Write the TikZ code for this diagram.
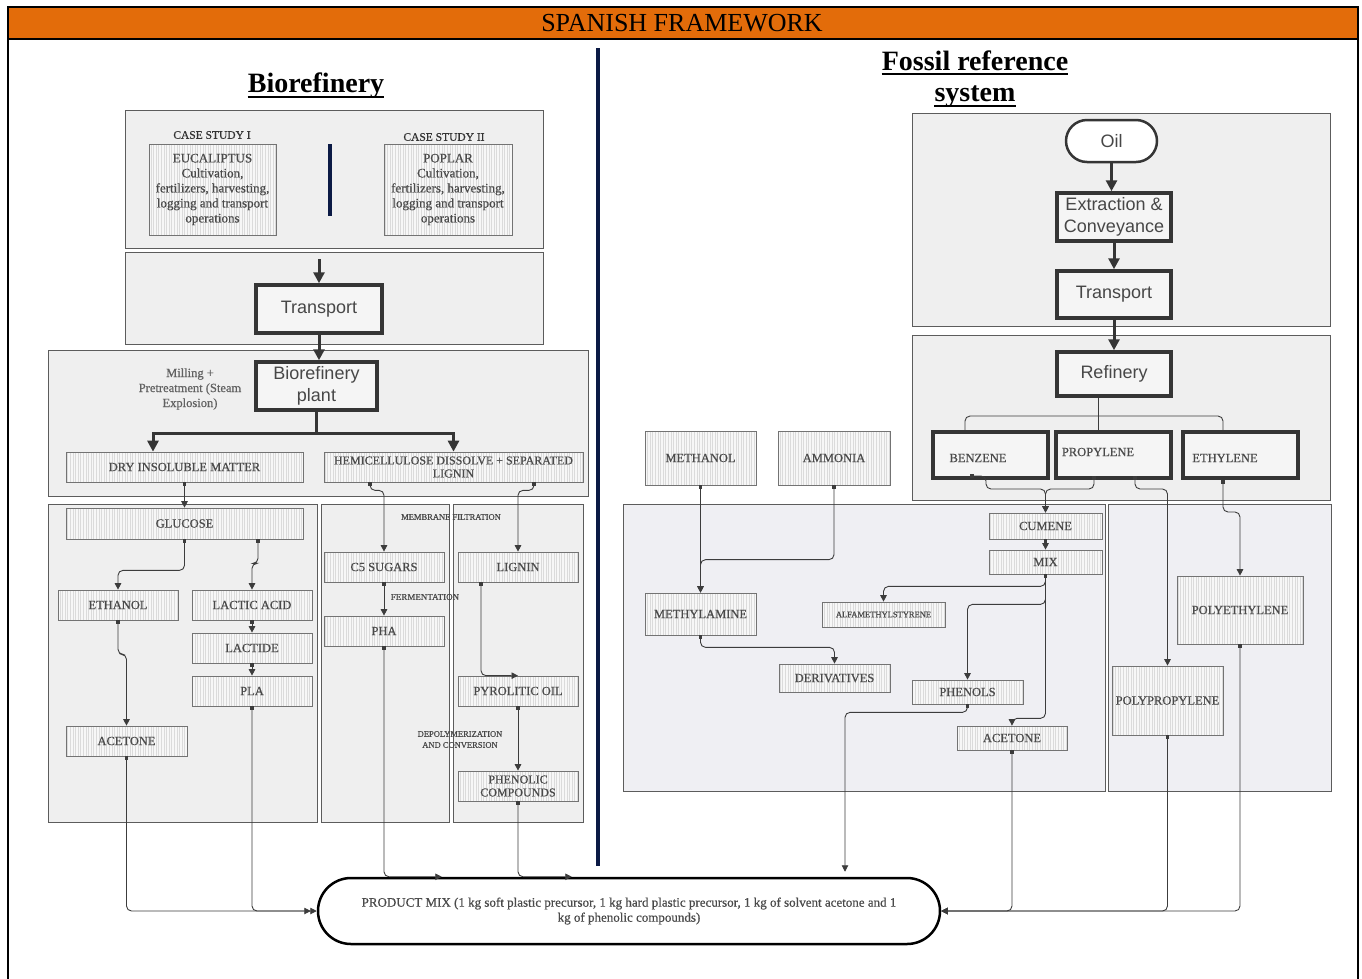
\documentclass[tikz,border=0pt]{standalone}
\usepackage{fontspec}
\setmainfont{Liberation Serif}
\newfontfamily\arialfont{Liberation Sans}
\newfontfamily\boxfont[FakeBold=0.6]{Liberation Serif}
\usetikzlibrary{arrows.meta,patterns.meta,calc}
\definecolor{hdr}{HTML}{E36C0A}
\definecolor{navy}{HTML}{0B1A45}
\definecolor{panelfill}{HTML}{EFEFEF}
\definecolor{panelfillb}{HTML}{EFEFF3}
\definecolor{paneldraw}{HTML}{5C5C5C}
\definecolor{boxtext}{HTML}{4A4A4A}
\definecolor{wire}{HTML}{3C3C3C}
\definecolor{heavy}{HTML}{353535}

\begin{document}
\begin{tikzpicture}[x=1pt,y=-1pt,
  panel/.style={draw=paneldraw,fill=panelfill,line width=0.8pt},
  panelb/.style={panel,fill=panelfillb},
  hatchbox/.style={draw=black!55,line width=0.7pt,preaction={fill=black!3},
     pattern={Lines[angle=90,distance=2.6pt,line width=0.45pt]},pattern color=black!14,
     text=boxtext,font=\boxfont\fontsize{12.5}{15}\selectfont,inner sep=1pt,align=center},
  heavybox/.style={draw=heavy,line width=3.5pt,fill=black!4,text=black!72,
     font=\arialfont\fontsize{18}{22}\selectfont,inner sep=1pt,align=center},
  chembox/.style={draw=heavy,line width=4pt,fill=black!4,inner sep=0pt},
  boxlbl/.style={text=boxtext,font=\boxfont\fontsize{12.5}{14}\selectfont,inner sep=0pt},
  smalllbl/.style={text=boxtext,font=\boxfont\fontsize{8.5}{11}\selectfont,inner sep=0pt,align=center},
  cslabel/.style={text=black!80,font=\boxfont\fontsize{11.5}{13}\selectfont,inner sep=0pt},
  title/.style={font=\bfseries\fontsize{28}{30}\selectfont,inner sep=0pt,anchor=base},
  flow/.style={draw=heavy,line width=3pt,-{Triangle[length=11pt,width=11pt]}},
  heavyline/.style={draw=heavy,line width=3pt},
  conn/.style={draw=wire,line width=0.9pt,rounded corners=5pt,
     {Square[length=3.4pt,width=3.4pt]}-{Triangle[length=6.5pt,width=6.5pt]}},
  plain/.style={draw=wire,line width=0.9pt,rounded corners=5pt}]

\useasboundingbox (0,0) rectangle (1362,978);

% frame and header bar
\fill[hdr] (8,7) rectangle (1358,39);
\node[font=\fontsize{26}{28}\selectfont,inner sep=0pt] (header) at (682,23) {SPANISH FRAMEWORK};
\draw[line width=2.5pt] (8,990) -- (8,7) -- (1358,7) -- (1358,990);
\draw[line width=2.5pt] (8,39) -- (1358,39);

% divider between the two systems
\draw[navy,line width=4pt] (598,48) -- (598,866);

% section titles
\node[title] (bio) at (316,92) {Biorefinery};
\draw[line width=2pt] ([yshift=-5pt]bio.base west) -- ([yshift=-5pt]bio.base east);
\node[title] (fossil) at (975,70) {Fossil reference};
\draw[line width=2pt] ([yshift=-4pt]fossil.base west) -- ([yshift=-4pt]fossil.base east);
\node[title] (system) at (975,101) {system};
\draw[line width=2pt] ([yshift=-5pt]system.base west) -- ([yshift=-5pt]system.base east);

% background panels, biorefinery side
\draw[panel] (125,110) rectangle (543,248);
\draw[panel] (125,252) rectangle (543,344);
\draw[panel] (48,350) rectangle (588,496);
\draw[panel] (48,504) rectangle (317,822);
\draw[panel] (321,504) rectangle (449,822);
\draw[panel] (453,504) rectangle (583,822);

% background panels, fossil side
\draw[panel] (912,113) rectangle (1330,326);
\draw[panel] (912,335) rectangle (1330,500);
\draw[panelb] (623,504) rectangle (1105,791);
\draw[panelb] (1108,504) rectangle (1331,791);

% ---------------- biorefinery ----------------
\node[cslabel] (cs1) at (212,135) {CASE STUDY I};
\node[cslabel] (cs2) at (444,137) {CASE STUDY II};
\node[hatchbox,minimum width=127,minimum height=91,font=\boxfont\fontsize{13}{15}\selectfont] (euc) at (212.5,189.5)
  {EUCALIPTUS\\Cultivation,\\fertilizers, harvesting,\\logging and transport\\operations};
\node[hatchbox,minimum width=128,minimum height=91,font=\boxfont\fontsize{13}{15}\selectfont] (pop) at (448,189.5)
  {POPLAR\\Cultivation,\\fertilizers, harvesting,\\logging and transport\\operations};
\draw[navy,line width=4pt] (330,144) -- (330,216);

\node[heavybox,minimum width=126,minimum height=48] (transL) at (319,309) {Transport};
\node[heavybox,minimum width=121,minimum height=48] (plant) at (316.5,386) {Biorefinery\\plant};
\node[text=black!62,font=\boxfont\fontsize{12.5}{15}\selectfont,align=center,inner sep=0pt] (milling)
  at (190,389) {Milling +\\Pretreatment (Steam\\Explosion)};

\node[hatchbox,minimum width=237,minimum height=30] (dry) at (184.5,467) {DRY INSOLUBLE MATTER};
\node[hatchbox,minimum width=259,minimum height=30,font=\boxfont\fontsize{12}{13}\selectfont] (hemi) at (453.5,467)
  {HEMICELLULOSE DISSOLVE + SEPARATED\\LIGNIN};

\node[hatchbox,minimum width=237,minimum height=31] (glucose) at (184.5,523.5) {GLUCOSE};
\node[hatchbox,minimum width=120,minimum height=30] (ethanol) at (118,605) {ETHANOL};
\node[hatchbox,minimum width=120,minimum height=30] (lactic) at (252,605) {LACTIC ACID};
\node[hatchbox,minimum width=120,minimum height=30] (lactide) at (252,648) {LACTIDE};
\node[hatchbox,minimum width=120,minimum height=30] (pla) at (252,691) {PLA};
\node[hatchbox,minimum width=121,minimum height=30] (acetL) at (126.5,741) {ACETONE};

\node[hatchbox,minimum width=120,minimum height=30] (c5) at (384,567) {C5 SUGARS};
\node[hatchbox,minimum width=120,minimum height=30] (pha) at (384,631) {PHA};
\node[hatchbox,minimum width=120,minimum height=30] (lignin) at (518,567) {LIGNIN};
\node[hatchbox,minimum width=120,minimum height=30] (pyro) at (518,691) {PYROLITIC OIL};
\node[hatchbox,minimum width=120,minimum height=30,font=\boxfont\fontsize{12}{13}\selectfont] (phenolic) at (518,786)
  {PHENOLIC\\COMPOUNDS};

\node[smalllbl] (membrane) at (451,517) {MEMBRANE FILTRATION};
\node[smalllbl,font=\boxfont\fontsize{9}{11}\selectfont] (ferment) at (425,597) {FERMENTATION};
\node[smalllbl] (depoly) at (460,739.5) {DEPOLYMERIZATION\\AND CONVERSION};

% product mix
\node[draw=black,line width=2.5pt,rounded corners=33pt,fill=white,minimum width=622,minimum height=66,
  align=center,text=boxtext,font=\boxfont\fontsize{13}{15}\selectfont,inner sep=2pt] (pm) at (629,911)
  {PRODUCT MIX (1 kg soft plastic precursor, 1 kg hard plastic precursor, 1 kg of solvent acetone and 1\\
   kg of phenolic compounds)};

% ---------------- fossil reference ----------------
\node[draw=heavy,line width=2.5pt,rounded corners=21pt,fill=white,minimum width=91,minimum height=42,
  text=black!72,font=\arialfont\fontsize{18}{22}\selectfont,inner sep=1pt] (oil) at (1111.5,141) {Oil};
\node[heavybox,minimum width=114,minimum height=48] (extr) at (1114,217) {Extraction \&\\Conveyance};
\node[heavybox,minimum width=114,minimum height=47] (transR) at (1114,294.5) {Transport};
\node[heavybox,minimum width=114,minimum height=44] (refinery) at (1114,374) {Refinery};

\node[chembox,minimum width=115,minimum height=46,
  label={[boxlbl,xshift=-12.5pt,yshift=-3pt]center:BENZENE}] (benzene) at (990.5,455) {};
\node[chembox,minimum width=115,minimum height=46,
  label={[boxlbl,xshift=-15.5pt,yshift=3pt]center:PROPYLENE}] (propylene) at (1113.5,455) {};
\node[chembox,minimum width=115,minimum height=46,
  label={[boxlbl,xshift=-15.5pt,yshift=-3pt]center:ETHYLENE}] (ethylene) at (1240.5,455) {};

\node[hatchbox,minimum width=111,minimum height=54] (methanol) at (700.5,458) {METHANOL};
\node[hatchbox,minimum width=112,minimum height=54] (ammonia) at (834,458) {AMMONIA};
\node[hatchbox,minimum width=113,minimum height=26] (cumene) at (1045.5,526) {CUMENE};
\node[hatchbox,minimum width=113,minimum height=24] (mix) at (1045.5,562) {MIX};
\node[hatchbox,minimum width=123,minimum height=25,font=\boxfont\fontsize{8.5}{10}\selectfont] (alfa) at (883.5,614.5) {ALFAMETHYLSTYRENE};
\node[hatchbox,minimum width=111,minimum height=42] (methylamine) at (700.5,614) {METHYLAMINE};
\node[hatchbox,minimum width=111,minimum height=28] (derivatives) at (834.5,678) {DERIVATIVES};
\node[hatchbox,minimum width=111,minimum height=24] (phenols) at (967.5,692) {PHENOLS};
\node[hatchbox,minimum width=110,minimum height=24] (acetR) at (1012,738) {ACETONE};
\node[hatchbox,minimum width=126,minimum height=68] (polyeth) at (1240,610) {POLYETHYLENE};
\node[hatchbox,minimum width=111,minimum height=69] (polyprop) at (1167.5,700.5) {POLYPROPYLENE};

% ---------------- heavy flow arrows ----------------
\coordinate (tin) at (319,259);
\draw[flow] (tin) -- (transL.north);
\draw[flow] (transL.south) -- (transL.south |- plant.north);
\draw[heavyline] (plant.south) -- ++(0,22) coordinate (split);
\draw[flow] (split) -| ([xshift=-31.5pt]dry.north);
\draw[flow] (split) -| (hemi.north);

\draw[flow] (oil.south) -- (oil.south |- extr.north);
\draw[flow] (extr.south) -- (transR.north);
\draw[flow] (transR.south) -- (refinery.north);

% ---------------- thin connectors, biorefinery ----------------
\draw[conn] (dry.south) -- (glucose.north);
\draw[conn] (glucose.south) -- ++(0,31) -| (ethanol.north);
\draw[conn] ([xshift=73.5pt]glucose.south) -- ++(0,24) -| (lactic.north);
\draw[conn] (lactic.south) -- (lactide.north);
\draw[conn] (lactide.south) -- (pla.north);
\draw[conn] (ethanol.south) -- ++(0,34) -| (acetL.north);
\draw[conn] (acetL.south) |- (pm.west);
\draw[conn] (pla.south) |- ([xshift=-6pt]pm.west);

\draw[conn] ([xshift=-83.5pt]hemi.south) -- ++(0,8) -| (c5.north);
\draw[conn] ([xshift=80.5pt]hemi.south) -- ++(0,8) -| (lignin.north);
\draw[conn] (c5.south) -- (pha.north);
\draw[conn] (pha.south) |- ([xshift=125pt]pm.north west);
\draw[conn] ([xshift=-37pt]lignin.south) |- (pyro.north);
\draw[conn] (pyro.south) -- (phenolic.north);
\draw[conn] (phenolic.south) |- ([xshift=255pt]pm.north west);

% ---------------- thin connectors, fossil ----------------
\draw[plain] ([xshift=-16pt]refinery.south) -- ([xshift=-15.5pt]propylene.north);
\draw[plain] ([xshift=-25.5pt]benzene.north) -- ++(0,-14) -| ([xshift=-17.5pt]ethylene.north);

\draw[conn] ([xshift=-20.5pt,yshift=4pt]benzene.south) -- ++(16,0) -- ++(0,13) -| (cumene.north);
\draw[conn] ([xshift=-19.5pt,yshift=4pt]propylene.south) -- ++(0,13) -| (cumene.north);
\draw[conn] ([xshift=21.5pt,yshift=4pt]propylene.south) -- ++(0,13) -| (polyprop.north);
\draw[conn] ([xshift=-17.5pt]ethylene.south) -- ++(0,32) -| (polyeth.north);

\draw[conn] (methanol.south) -- (methylamine.north);
\draw[conn] (ammonia.south) |- ([yshift=33pt]methylamine.north) -- (methylamine.north);
\draw[conn] (methylamine.south) -- ++(0,12) -| (derivatives.north);

\draw[conn] (cumene.south) -- (mix.north);
\draw[conn] (mix.south) -- ++(0,12) -| (alfa.north);
\draw[conn] (mix.south) -- ++(0,30) -| (phenols.north);
\draw[conn] (mix.south) -- ++(0,144) -| (acetR.north);

\draw[conn] (phenols.south) -- ++(0,8) -| ([xshift=216pt,yshift=5pt]pm.north);
\draw[conn] (acetR.south) |- (pm.east);
\draw[conn] (polyprop.south) |- (pm.east);
\draw[conn] (polyeth.south) |- (pm.east);

\end{tikzpicture}
\end{document}
